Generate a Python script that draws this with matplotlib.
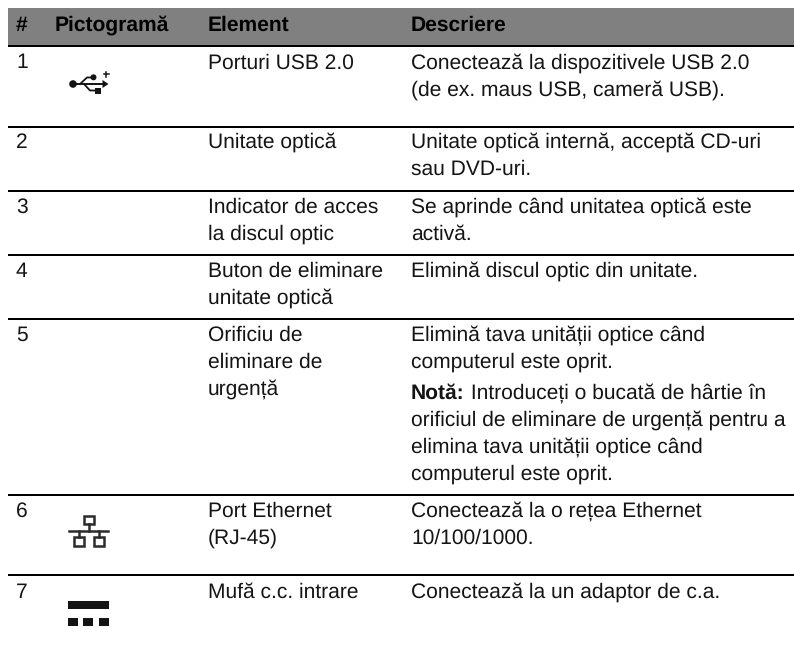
import matplotlib
matplotlib.use('Agg')
import matplotlib.pyplot as plt
from matplotlib.patches import Circle, Rectangle, Polygon

plt.rcParams['font.family'] = ['Liberation Sans', 'DejaVu Sans']
plt.rcParams['text.hinting'] = 'no_hinting'
plt.rcParams['text.hinting_factor'] = 1

headers = ['#', 'Pictogramă', 'Element', 'Descriere']
numbers = ['1', '2', '3', '4', '5', '6', '7']
elements = [
    ['Porturi USB 2.0'],
    ['Unitate optică'],
    ['Indicator de acces', 'la discul optic'],
    ['Buton de eliminare', 'unitate optică'],
    ['Orificiu de', 'eliminare de', 'urgență'],
    ['Port Ethernet', '(RJ-45)'],
    ['Mufă c.c. intrare'],
]
descriptions = [
    ['Conectează la dispozitivele USB 2.0', '(de ex. maus USB, cameră USB).'],
    ['Unitate optică internă, acceptă CD-uri', 'sau DVD-uri.'],
    ['Se aprinde când unitatea optică este', 'activă.'],
    ['Elimină discul optic din unitate.'],
    ['Elimină tava unității optice când', 'computerul este oprit.'],
    ['Conectează la o rețea Ethernet', '10/100/1000.'],
    ['Conectează la un adaptor de c.a.'],
]
note_label = 'Notă:'
note_lines = [
    ' Introduceți o bucată de hârtie în',
    'orificiul de eliminare de urgență pentru a',
    'elimina tava unității optice când',
    'computerul este oprit.',
]

col_x = [16, 55, 208, 411]
baselines = [68.5, 148, 212.5, 277, 340.5, 516.5, 598]  # first line of each row
rules = [127, 191, 255, 319, 495, 575]
line_h = 27
fs = 15.4  # glyphs snap to whole pixel sizes, 15.6 jumps too wide
ink = '#141414'

fig = plt.figure(figsize=(7.94, 6.5), dpi=100)
ax = fig.add_axes([0, 0, 1, 1])
ax.set_xlim(0, 794)
ax.set_ylim(650, 0)
ax.axis('off')

# header band
ax.add_patch(Rectangle((8, 8), 786, 37, color='#808080', lw=0))
ax.add_patch(Rectangle((8, 45), 786, 2, color='black', lw=0))
for x, h in zip(col_x, headers):
    ax.text(x, 31, h, fontsize=fs, fontweight='bold', color='black', va='baseline')

for y in rules:
    ax.add_patch(Rectangle((8, y - 1), 786, 2, color='black', lw=0))

for i in range(len(numbers)):
    ax.text(col_x[0], baselines[i], numbers[i], fontsize=fs, color=ink, va='baseline')
    for j, s in enumerate(elements[i]):
        ax.text(col_x[2], baselines[i] + j * line_h, s, fontsize=fs, color=ink, va='baseline')
    for j, s in enumerate(descriptions[i]):
        ax.text(col_x[3], baselines[i] + j * line_h, s, fontsize=fs, color=ink, va='baseline')

# note in row 5, bold label then regular text
note_y = [399, 425.7, 452.5, 480]
lab = ax.text(col_x[3], note_y[0], note_label, fontsize=fs, fontweight='bold', color=ink, va='baseline')
fig.canvas.draw()
bb = lab.get_window_extent()
ax.text(bb.x1, note_y[0], note_lines[0], fontsize=fs, color=ink, va='baseline')
for y, s in zip(note_y[1:], note_lines[1:]):
    ax.text(col_x[3], y, s, fontsize=fs, color=ink, va='baseline')


def usb_icon():
    ax.add_patch(Circle((73, 84), 3.8, color=ink, lw=0))
    ax.plot([73, 104], [84, 84], color=ink, lw=1.4)
    ax.add_patch(Polygon([[102.5, 80], [108.5, 84], [102.5, 88]], color=ink, lw=0))
    ax.plot([80, 87, 92], [84, 77.5, 77.5], color=ink, lw=1.3)
    ax.add_patch(Circle((93.5, 77.3), 3, color=ink, lw=0))
    ax.plot([84, 90, 95], [84, 90.5, 90.5], color=ink, lw=1.3)
    ax.add_patch(Rectangle((95, 88), 5.7, 5.5, color=ink, lw=0))
    ax.plot([103.5, 108.5], [74, 74], color=ink, lw=1.1)
    ax.plot([106, 106], [71.5, 76.5], color=ink, lw=1.1)


def ethernet_icon():
    lw = 1.8
    c = '#2b2b2b'
    for x0, y0, w, h in [(83.7, 516, 10.3, 8.3), (73.5, 537, 10, 8.5), (93.5, 537, 10.3, 8.5)]:
        ax.add_patch(Rectangle((x0, y0), w, h, fill=False, ec=c, lw=lw))
    ax.plot([68.7, 108], [530.7, 530.7], color=c, lw=lw)
    ax.plot([88.8, 88.8], [524, 530.7], color=c, lw=lw)
    ax.plot([78.5, 78.5], [530.7, 537], color=c, lw=lw)
    ax.plot([98.5, 98.5], [530.7, 537], color=c, lw=lw)


def dc_icon():
    ax.add_patch(Rectangle((68, 601), 41, 8, color=ink, lw=0))
    for x0 in [68, 83, 99]:
        ax.add_patch(Rectangle((x0, 618), 10.2, 8, color=ink, lw=0))


usb_icon()
ethernet_icon()
dc_icon()

fig.savefig('out.png', dpi=100)
